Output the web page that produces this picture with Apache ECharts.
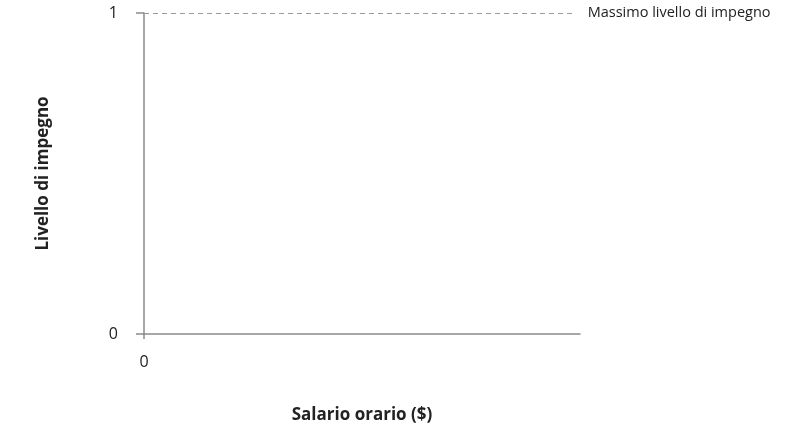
<!DOCTYPE html>
<html>
<head>
<meta charset="utf-8">
<script src="https://cdn.jsdelivr.net/npm/echarts@6/dist/echarts.min.js"></script>
<style>
html,body{margin:0;padding:0;background:#fff;}
#chart{width:810px;height:429px;}
</style>
</head>
<body>
<div id="chart"></div>
<script>
// 数据
var xTicks = [0];
var yTicks = [0, 1];
var xMax = 10;
var maxEffort = 1;
var maxLabel = 'Massimo livello di impegno';

var myChart = echarts.init(document.getElementById('chart'));

var axisColor = '#8a8a8a';
var font = '"Open Sans", "Noto Sans", sans-serif';

var option = {
    animation: false,
    grid: {
        left: 144,
        right: 230,
        top: 13,
        bottom: 95,
        outerBoundsMode: 'none',
        containLabel: false
    },
    xAxis: {
        type: 'value',
        min: 0,
        max: xMax,
        name: 'Salario orario ($)',
        nameLocation: 'middle',
        nameGap: 73,
        nameTextStyle: {
            color: '#222',
            fontSize: 17,
            fontWeight: 'bold',
            fontFamily: font
        },
        axisLine: {
            show: true,
            lineStyle: { color: axisColor, width: 1.5 }
        },
        axisTick: {
            show: true,
            length: 5,
            customValues: xTicks,
            lineStyle: { color: axisColor, width: 1.5 }
        },
        axisLabel: {
            customValues: xTicks,
            margin: 20,
            color: '#222',
            fontSize: 16,
            fontFamily: font
        },
        splitLine: { show: false }
    },
    yAxis: {
        type: 'value',
        min: 0,
        max: 1,
        interval: 1,
        name: 'Livello di impegno',
        nameLocation: 'middle',
        nameGap: 92,
        nameRotate: 90,
        nameTextStyle: {
            color: '#222',
            fontSize: 17,
            fontWeight: 'bold',
            fontFamily: font
        },
        axisLine: {
            show: true,
            lineStyle: { color: axisColor, width: 1.5 }
        },
        axisTick: {
            show: true,
            length: 8,
            customValues: yTicks,
            lineStyle: { color: axisColor, width: 1.5 }
        },
        axisLabel: {
            customValues: yTicks,
            margin: 26,
            color: '#222',
            fontSize: 16,
            fontFamily: font
        },
        splitLine: { show: false }
    },
    series: [
        {
            type: 'line',
            data: [],
            markLine: {
                silent: true,
                symbol: ['none', 'none'],
                lineStyle: {
                    color: '#9a9a9a',
                    type: [5, 4],
                    width: 1
                },
                label: {
                    show: true,
                    position: 'end',
                    distance: 12,
                    formatter: maxLabel,
                    color: '#222',
                    fontSize: 14.5,
                    fontFamily: font
                },
                data: [
                    [
                        { coord: [0, maxEffort] },
                        { coord: [xMax * 0.99, maxEffort] }
                    ]
                ]
            }
        }
    ]
};

myChart.setOption(option);
</script>
</body>
</html>
